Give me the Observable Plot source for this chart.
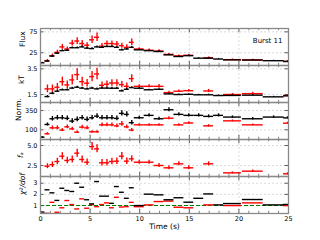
<!DOCTYPE html>
<html><head><meta charset="utf-8">
<script src="https://cdn.jsdelivr.net/npm/d3@7"></script>
<script src="https://cdn.jsdelivr.net/npm/@observablehq/plot@0.6"></script>
<style>
body{margin:0;background:#fff;}
#c{position:relative;width:320px;height:240px;overflow:hidden;font-family:"DejaVu Sans",sans-serif;background:#fff;}
#c svg{position:absolute;left:0;}
</style>
</head><body><div id="c"></div>
<script>
// time bins (s) and half widths
const time = [0.2,0.7,1.2,1.7,2.2,2.7,3.2,3.7,4.2,4.7,5.2,5.7,6.2,6.7,7.2,7.7,8.2,8.7,9.2,9.95,10.95,11.95,12.95,13.95,14.95,15.95,16.95,17.95,19.35,21.4,23.5,24.9];
const halfWidth = [0.25,0.25,0.25,0.25,0.25,0.25,0.25,0.25,0.25,0.25,0.25,0.25,0.25,0.25,0.25,0.25,0.25,0.25,0.25,0.5,0.5,0.5,0.5,0.5,0.5,0.5,0.5,0.5,0.9,1.05,1.05,0.4];

// Flux: black = blackbody only, red = with f_a
const fluxBB    = [1,5,17,24,30,31,37,37,39,36,35,39,38,40,40,38,32,34,38,32,30,28,20,16,18,12,12,10,8,7.5,6,4];
const fluxBBErr = [1,1,1.5,1.5,2,2,2,2,2,2,2,2,2,2,2,2,2,2,2,1.5,1.5,1.5,1.5,1.5,1.5,1,1,1,1,1,1,1];
const fluxFa    = [null,6,18,26,39,34,48,53,47,43,56,62,41,47,47,46,42,38,50,34,31,29,21,17.5,19,null,13,null,8.5,8,null,4.5];
const fluxFaErr = [null,3,4,5,6,5,7,8,7,6,9,10,6,6,6,6,6,6,8,3,3,3,2,2,2,null,2,null,1.5,1.5,null,1.5];

// kT (keV)
const ktBB    = [null,1.34,1.6,1.76,1.87,1.87,2.0,2.07,2.0,1.94,2.0,1.94,2.0,2.0,1.99,1.99,1.79,1.91,2.04,1.99,1.87,1.91,1.55,1.5,1.52,1.48,1.48,1.42,1.43,1.45,1.32,1.4];
const ktBBErr = [null,0.08,0.06,0.06,0.06,0.06,0.07,0.07,0.07,0.07,0.07,0.07,0.07,0.07,0.07,0.07,0.07,0.07,0.07,0.05,0.05,0.05,0.05,0.05,0.05,0.05,0.05,0.05,0.04,0.04,0.04,0.04];
const ktFa    = [null,1.94,1.94,2.07,2.5,2.25,2.64,3.05,2.5,2.38,2.9,3.1,2.22,2.3,2.4,2.4,2.27,2.14,2.74,2.14,2.14,2.14,1.65,1.76,1.8,null,1.78,null,1.5,1.57,null,1.42];
const ktFaErr = [null,0.3,0.3,0.3,0.35,0.3,0.4,0.45,0.35,0.3,0.4,0.45,0.25,0.25,0.25,0.25,0.25,0.25,0.3,0.12,0.12,0.15,0.1,0.1,0.1,null,0.12,null,0.08,0.1,null,0.08];

// Normalisation
const normBB    = [4,169,243,256,256,248,213,235,256,235,256,277,256,256,256,248,313,300,192,256,287,243,360,300,287,287,274,287,265,243,265,255];
const normBBErr = [8,20,30,30,30,30,30,30,30,30,30,30,30,30,30,30,35,35,30,20,20,20,25,20,20,20,20,20,15,15,15,15];
const normFa    = [null,48,125,125,96,138,112,69,134,125,74,74,164,164,164,150,177,138,96,164,164,164,250,164,188,null,151,null,216,164,null,186];
const normFaErr = [null,15,25,25,20,25,20,15,25,25,15,15,25,25,25,25,30,25,20,15,15,15,20,15,15,null,15,null,12,12,null,12];

// f_a
const faVal = [null,2.41,2.6,3.0,3.66,3.13,3.25,4.04,3.25,2.91,4.87,4.58,2.84,2.84,3.0,3.04,3.66,3.04,3.33,2.91,2.91,2.5,2.21,2.71,2.21,null,2.71,null,1.58,1.79,null,1.46];
const faErr = [null,0.3,0.35,0.4,0.45,0.4,0.45,0.5,0.45,0.4,0.5,0.5,0.4,0.4,0.4,0.4,0.45,0.4,0.4,0.25,0.25,0.25,0.25,0.25,0.25,null,0.25,null,0.12,0.15,null,0.12];

// reduced chi-square
const chiBB = [0.42,2.41,2.14,1.46,2.55,2.35,2.26,3.0,2.64,1.52,1.15,3.15,1.84,1.84,1.2,2.7,2.19,1.65,2.59,1.0,2.02,1.96,1.52,1.7,1.3,1.65,2.04,1.06,1.18,1.54,1.06,1.1];
const chiFa = [null,0.31,1.29,0.4,0.8,1.45,1.09,0.7,1.6,0.76,1.09,0.9,1.09,1.24,0.8,1.74,0.87,0.9,1.29,0.9,1.06,1.36,1.4,0.85,0.8,null,1.06,null,1.0,1.24,null,1.0];
const chiRef = [1];

const xTicks = [0,5,10,15,20,25];
const xMinor = [1,2,3,4,6,7,8,9,11,12,13,14,16,17,18,19,21,22,23,24];
const title = ["Burst 11"];
const xLabel = ["Time (s)"];

function rows(vals, errs) {
  return time.map((t, i) => ({
    t, x1: t - halfWidth[i], x2: t + halfWidth[i], y: vals[i],
    y1: errs && errs[i] != null ? vals[i] - errs[i] : null,
    y2: errs && errs[i] != null ? vals[i] + errs[i] : null
  })).filter(d => d.y != null);
}

const panels = [
  {label: "Flux", lx: -18, domain: [-5.5, 83], ticks: [25, 75], fmt: d3.format("d"),
   series: [[fluxFa, fluxFaErr, "red"], [fluxBB, fluxBBErr, "black"]]},
  {label: "kT", lx: -19, domain: [0.88, 3.76], ticks: [1.5, 3.5], fmt: d3.format(".1f"),
   series: [[ktFa, ktFaErr, "red"], [ktBB, ktBBErr, "black"]]},
  {label: "Norm.", lx: -21.5, domain: [-26, 454], ticks: [100, 350], fmt: d3.format("d"),
   series: [[normFa, normFaErr, "red"], [normBB, normBBErr, "black"]]},
  {label: "fₐ", lx: -19.5, italic: true, domain: [1.125, 5.75], ticks: [2.5, 5.0], fmt: d3.format(".1f"),
   series: [[faVal, faErr, "red"]]},
  {label: "χ²/dof", lx: -18, italic: true, domain: [0.29, 3.6], ticks: [1, 2, 3], fmt: d3.format("d"),
   series: [[chiFa, null, "red"], [chiBB, null, "black"]], chi: true}
];

const H = 37, TOP = 28;
const root = document.getElementById("c");

panels.forEach((p, k) => {
  const last = k === panels.length - 1;
  const [d0, d1] = p.domain;
  const span = d1 - d0;
  const marks = [
    Plot.ruleX(xTicks.slice(1, -1), {stroke: "#c8c8c8", strokeDasharray: "2,2", strokeWidth: 0.7}),
    Plot.ruleY(p.ticks, {stroke: "#c8c8c8", strokeDasharray: "2,2", strokeWidth: 0.7}),
    // inward ticks
    Plot.ruleX(xTicks, {y1: d0, y2: d0 + 0.11 * span, stroke: "#333", strokeWidth: 0.8}),
    Plot.ruleX(xMinor, {y1: d0, y2: d0 + 0.06 * span, stroke: "#333", strokeWidth: 0.6}),
    Plot.ruleX(xTicks, {y1: d1 - 0.11 * span, y2: d1, stroke: "#333", strokeWidth: 0.8}),
    Plot.ruleX(xMinor, {y1: d1 - 0.06 * span, y2: d1, stroke: "#333", strokeWidth: 0.6}),
    Plot.ruleY(p.ticks, {x1: 0, x2: 0.35, stroke: "#333", strokeWidth: 0.8}),
    Plot.ruleY(p.ticks, {x1: 24.65, x2: 25, stroke: "#333", strokeWidth: 0.8})
  ];
  if (p.chi) marks.push(Plot.ruleY(chiRef, {stroke: "#008000", strokeDasharray: "4,2", strokeWidth: 1.1}));
  for (const [vals, errs, color] of p.series) {
    const r = rows(vals, errs);
    marks.push(Plot.ruleY(r, {y: "y", x1: "x1", x2: "x2", stroke: color, strokeWidth: 1.4, clip: true}));
    if (errs) marks.push(Plot.ruleX(r.filter(d => d.y1 != null), {x: "t", y1: "y1", y2: "y2", stroke: color, strokeWidth: 1.4, clip: true}));
  }
  marks.push(Plot.frame({stroke: "#888", strokeWidth: 1.3}));
  if (!last) marks.push(Plot.ruleY([d0], {stroke: "#222", strokeWidth: 1}));
  marks.push(Plot.text([p.label], {frameAnchor: "left", rotate: -90, dx: p.lx, fontSize: 7.5, fill: "black", fontStyle: p.italic ? "italic" : "normal"}));
  if (k === 0) marks.push(Plot.text(title, {frameAnchor: "top-right", dx: -6, dy: 10, fontSize: 7, fill: "black"}));
  if (last) marks.push(Plot.text(xLabel, {frameAnchor: "bottom", dy: 15.5, fontSize: 7.5, fill: "black"}));

  const svg = Plot.plot({
    width: 320,
    height: H + (last ? 27 : 0),
    marginLeft: 40, marginRight: 32, marginTop: 0, marginBottom: last ? 27 : 0,
    style: {fontSize: "6.5px", fontFamily: "DejaVu Sans", background: "transparent", overflow: "visible", color: "black"},
    x: {domain: [0, 25], ticks: xTicks, tickSize: 0, tickPadding: 3, axis: last ? "bottom" : null, label: null},
    y: {domain: p.domain, ticks: p.ticks, tickSize: 0, tickPadding: 3, tickFormat: p.fmt, label: null},
    marks
  });
  svg.style.top = (TOP + H * k) + "px";
  root.appendChild(svg);
});
</script></body></html>
